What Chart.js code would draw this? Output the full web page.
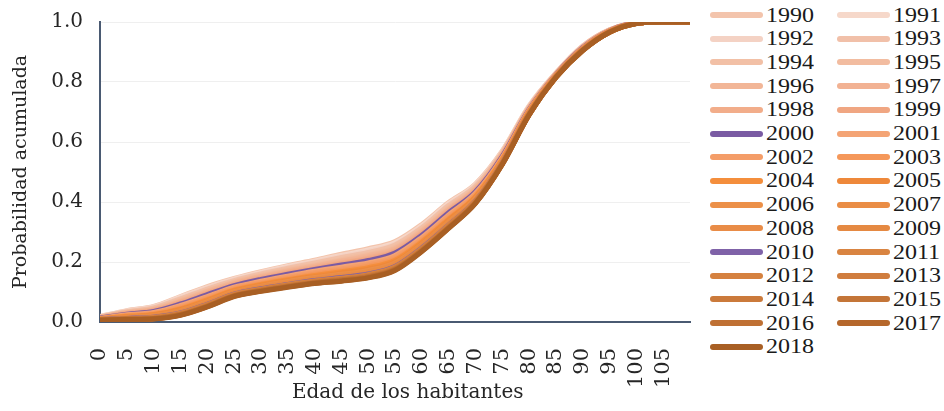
<!DOCTYPE html>
<html>
<head>
<meta charset="utf-8">
<script src="https://cdn.jsdelivr.net/npm/chart.js@4.4.1/dist/chart.umd.min.js"></script>
<style>
  html, body { margin: 0; padding: 0; background: #fff; }
  #wrap { position: relative; width: 944px; height: 411px; overflow: hidden; }
  #chartBox { position: absolute; left: 0; top: 0; width: 700px; height: 411px; }
  .item {
    position: absolute; height: 24px; display: flex; align-items: center;
    font-family: "Times New Roman", "Liberation Serif", serif; font-size: 20px;
    color: #1a1a1a; white-space: nowrap;
  }
  .swatch { width: 53px; height: 6px; border-radius: 3px; margin-right: 3px; }
  .item span { display: inline-block; transform: scaleX(1.2); transform-origin: left center; }
</style>
</head>
<body>
<div id="wrap">
  <div id="chartBox"><canvas id="cdfChart"></canvas></div>
  <div id="legend"></div>
</div>
<script>
/* Cumulative probability of death by age, one line per year */

const ages = [0, 5, 10, 15, 20, 25, 30, 35, 40, 45, 50, 55, 60, 65, 70, 75, 80, 85, 90, 95, 100, 105, 110];

const y1990 = [.018,.038,.052,.085,.118,.145,.168,.188,.206,.226,.244,.268,.325,.398,.460,.570,.720,.830,.920,.974,.997,1,1];
const y1991 = [.018,.037,.050,.083,.115,.143,.165,.185,.203,.222,.240,.264,.321,.395,.457,.568,.719,.829,.919,.974,.997,1,1];
const y1992 = [.017,.036,.049,.080,.113,.140,.163,.182,.200,.219,.236,.260,.318,.391,.455,.566,.718,.829,.919,.973,.997,1,1];
const y1993 = [.017,.034,.047,.077,.110,.138,.160,.179,.197,.215,.232,.257,.314,.388,.452,.565,.716,.828,.918,.973,.997,1,1];
const y1994 = [.016,.033,.045,.075,.107,.135,.157,.177,.194,.212,.228,.253,.311,.384,.450,.563,.715,.828,.918,.973,.997,1,1];
const y1995 = [.016,.032,.044,.072,.104,.133,.155,.174,.190,.208,.225,.249,.307,.381,.447,.561,.714,.827,.917,.972,.997,1,1];
const y1996 = [.015,.031,.042,.070,.102,.131,.152,.171,.187,.204,.221,.245,.303,.377,.444,.559,.713,.826,.916,.972,.997,1,1];
const y1997 = [.015,.030,.040,.067,.099,.128,.150,.168,.184,.201,.217,.241,.300,.374,.442,.557,.712,.826,.916,.972,.997,1,1];
const y1998 = [.014,.028,.039,.065,.096,.126,.147,.165,.181,.197,.213,.237,.296,.371,.439,.556,.710,.825,.915,.971,.997,1,1];
const y1999 = [.014,.027,.037,.062,.094,.123,.144,.162,.178,.194,.209,.233,.293,.367,.437,.554,.709,.825,.915,.971,.997,1,1];
const y2000 = [.013,.026,.035,.060,.091,.121,.142,.159,.175,.190,.205,.230,.289,.364,.434,.552,.708,.824,.914,.971,.997,1,1];
const y2001 = [.012,.024,.032,.055,.085,.116,.136,.153,.169,.183,.197,.222,.282,.357,.429,.548,.706,.823,.913,.970,.996,1,1];
const y2002 = [.011,.022,.029,.051,.081,.113,.132,.149,.164,.177,.192,.216,.276,.352,.425,.546,.704,.822,.912,.970,.996,1,1];
const y2003 = [.011,.020,.027,.047,.077,.109,.128,.145,.159,.172,.186,.210,.271,.346,.421,.543,.702,.821,.911,.969,.996,1,1];
const y2004 = [.010,.019,.025,.044,.074,.106,.125,.141,.155,.168,.181,.206,.267,.342,.418,.541,.701,.820,.910,.969,.996,1,1];
const y2005 = [.010,.017,.023,.041,.070,.103,.122,.138,.151,.163,.176,.201,.262,.338,.415,.539,.699,.820,.910,.968,.996,1,1];
const y2006 = [.009,.016,.021,.038,.068,.101,.119,.135,.148,.159,.172,.197,.258,.334,.412,.537,.698,.819,.909,.968,.996,1,1];
const y2007 = [.009,.015,.019,.036,.065,.098,.117,.132,.145,.156,.168,.193,.255,.331,.409,.535,.697,.818,.908,.968,.996,1,1];
const y2008 = [.008,.014,.018,.034,.063,.096,.115,.130,.143,.153,.165,.190,.252,.328,.407,.534,.696,.818,.908,.968,.996,1,1];
const y2009 = [.008,.013,.017,.032,.061,.095,.113,.128,.141,.150,.162,.187,.249,.326,.405,.532,.695,.817,.907,.967,.996,1,1];
const y2010 = [.008,.012,.016,.030,.059,.093,.111,.125,.138,.148,.160,.185,.247,.323,.403,.531,.694,.817,.907,.967,.996,1,1];
const y2011 = [.007,.011,.015,.029,.058,.092,.109,.124,.137,.146,.158,.183,.245,.322,.402,.530,.693,.817,.907,.967,.996,1,1];
const y2012 = [.007,.011,.014,.028,.056,.090,.108,.123,.135,.144,.156,.181,.243,.320,.401,.529,.693,.816,.906,.967,.996,1,1];
const y2013 = [.007,.010,.013,.026,.055,.089,.107,.121,.134,.142,.154,.179,.241,.318,.400,.528,.692,.816,.906,.967,.996,1,1];
const y2014 = [.007,.010,.012,.025,.053,.088,.105,.120,.132,.141,.152,.177,.240,.316,.398,.527,.692,.816,.906,.966,.996,1,1];
const y2015 = [.006,.009,.012,.025,.053,.087,.105,.119,.131,.140,.151,.176,.239,.315,.398,.527,.691,.816,.906,.966,.995,1,1];
const y2016 = [.006,.009,.011,.024,.052,.087,.104,.118,.130,.139,.150,.175,.238,.315,.397,.526,.691,.815,.905,.966,.995,1,1];
const y2017 = [.006,.009,.011,.023,.051,.086,.103,.117,.129,.137,.148,.173,.236,.313,.396,.526,.690,.815,.905,.966,.995,1,1];
const y2018 = [.006,.008,.010,.022,.050,.085,.102,.116,.128,.136,.147,.172,.235,.312,.395,.525,.690,.815,.905,.966,.995,1,1];

const years = [1990, 1991, 1992, 1993, 1994, 1995, 1996, 1997, 1998, 1999, 2000, 2001, 2002, 2003, 2004,
               2005, 2006, 2007, 2008, 2009, 2010, 2011, 2012, 2013, 2014, 2015, 2016, 2017, 2018];
const seriesValues = [y1990, y1991, y1992, y1993, y1994, y1995, y1996, y1997, y1998, y1999, y2000, y2001, y2002, y2003, y2004,
                      y2005, y2006, y2007, y2008, y2009, y2010, y2011, y2012, y2013, y2014, y2015, y2016, y2017, y2018];

const yTicks = [0, 0.2, 0.4, 0.6, 0.8, 1.0];

const lineColors = [
  '#f3c4ac', '#f6d8ca', '#f4d2c4', '#f1c0a9', '#f2c0a6', '#f2bca0', '#f2b697', '#f2b293', '#f2ad8a', '#f0a682',
  '#7a5ba3', '#f4a475', '#f49d68', '#f5985a', '#f48e3c', '#ee883a', '#ec9048', '#ea8d45', '#e98c47', '#e58942',
  '#7f62a8', '#d98441', '#d5813f', '#d07d3e', '#cb7a3b', '#c47538', '#bf7033', '#b5672b', '#a85f24'
];

const serif = '"DejaVu Serif", "Times New Roman", serif';
const axisColor = '#4a5a72';

const datasets = years.map((yr, i) => ({
  label: String(yr),
  data: ages.map((a, j) => ({ x: a, y: seriesValues[i][j] })),
  borderColor: lineColors[i],
  backgroundColor: lineColors[i],
  borderWidth: 5,
  pointRadius: 0,
  cubicInterpolationMode: 'monotone',
  borderCapStyle: 'round',
  borderJoinStyle: 'round',
  order: 2018 - yr   // later years drawn on top
}));

new Chart(document.getElementById('cdfChart'), {
  type: 'line',
  data: { datasets: datasets },
  options: {
    responsive: true,
    maintainAspectRatio: false,
    animation: false,
    layout: { padding: { left: 10, right: 10, top: 22, bottom: 4 } },
    plugins: { legend: { display: false }, tooltip: { enabled: false } },
    scales: {
      x: {
        type: 'linear',
        min: 0,
        max: 110,
        grid: { display: false, drawTicks: false },
        border: { display: true, color: axisColor, width: 2 },
        afterBuildTicks: s => { s.ticks = ages.map(a => ({ value: a })); },
        afterFit: s => { s.height = 411 - 322 - 4; s.paddingLeft = 0; s.paddingRight = 0; },
        ticks: {
          autoSkip: false,
          minRotation: 90,
          maxRotation: 90,
          padding: 26,
          color: '#262626',
          font: { family: serif, size: 21 },
          callback: v => (v <= 105 ? String(v) : '')
        },
        title: {
          display: true,
          text: '\u00a0\u00a0\u00a0\u00a0Edad de los habitantes',
          color: '#262626',
          font: { family: serif, size: 20 },
          padding: { top: 0, bottom: 2 }
        }
      },
      y: {
        min: 0,
        max: 1,
        grid: { color: '#efefef', lineWidth: 1, drawTicks: false },
        border: { display: true, color: axisColor, width: 2 },
        afterBuildTicks: s => { s.ticks = yTicks.map(v => ({ value: v })); },
        afterFit: s => { s.width = 100 - 10; s.paddingTop = 0; s.paddingBottom = 0; },
        ticks: {
          padding: 17,
          color: '#262626',
          font: { family: serif, size: 20 },
          callback: v => Number(v).toFixed(1)
        },
        title: {
          display: true,
          text: 'Probabilidad acumulada',
          color: '#262626',
          font: { family: serif, size: 19 },
          padding: { top: 0, bottom: 0 }
        }
      }
    }
  }
});

// two-column legend, filled row by row like the original
const legendEl = document.getElementById('legend');
years.forEach((yr, i) => {
  const row = Math.floor(i / 2), col = i % 2;
  const item = document.createElement('div');
  item.className = 'item';
  item.style.left = (col === 0 ? 710 : 837) + 'px';
  item.style.top = (15 + row * 23.7 - 12) + 'px';
  item.innerHTML = `<div class="swatch" style="background:${lineColors[i]}"></div><span>${yr}</span>`;
  legendEl.appendChild(item);
});
</script>
</body>
</html>
